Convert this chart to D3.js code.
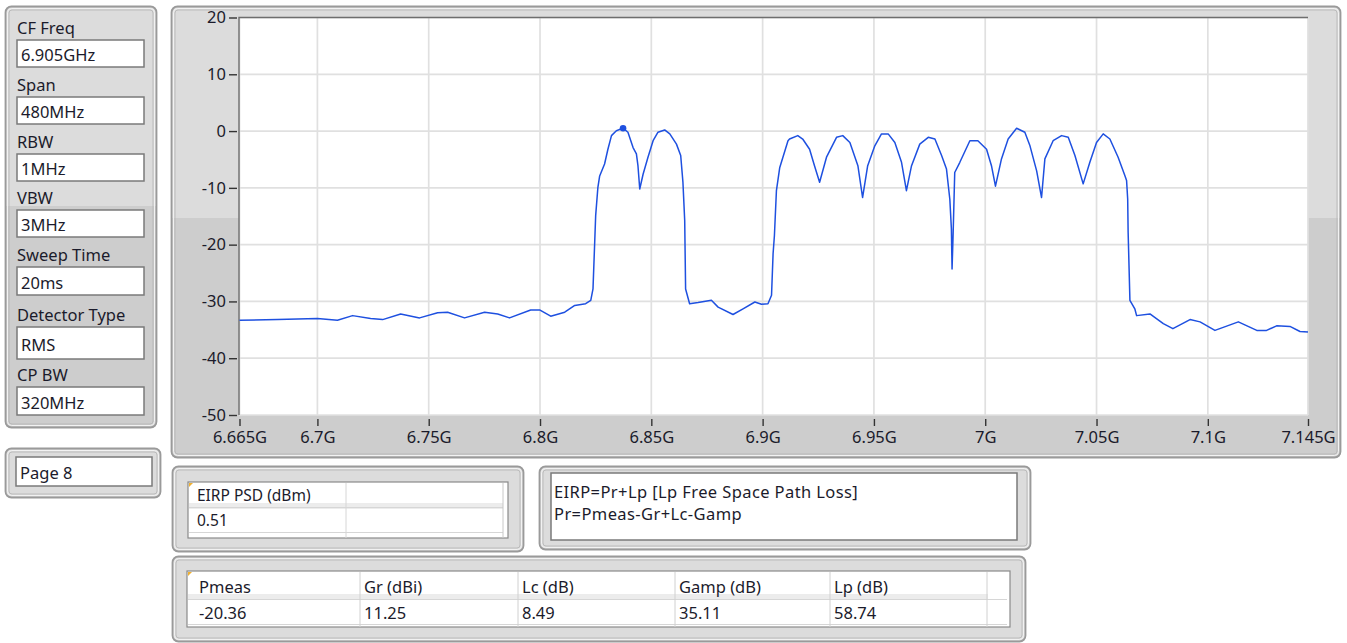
<!DOCTYPE html>
<html><head><meta charset="utf-8">
<script src="https://cdn.jsdelivr.net/npm/d3@7"></script>
<style>
html,body{margin:0;padding:0;background:#fff;}
svg text{font-family:"Noto Sans","Open Sans",sans-serif;fill:#1b1b2b;}
</style></head>
<body>
<svg id="c" width="1347" height="643"></svg>
<script>
// ---------- data ----------
const freqMHz = [6665,6682.1,6700,6709,6715.8,6723.9,6729.3,6737.4,6745.9,6754,6758.5,6766.1,6775.1,6781,6786.3,6795.8,6799.8,6804.8,6811.1,6815.6,6820.5,6822.8,6823.8,6825,6826,6826.8,6829,6830.5,6832.1,6834.3,6837.3,6839.5,6841.8,6843.3,6844,6844.8,6846.3,6848.5,6850.8,6853,6856,6858.3,6861.3,6863.2,6864.2,6865,6865.4,6867.2,6871,6877,6880,6886.7,6891.2,6896.5,6899.5,6902.4,6904,6904.7,6905.3,6906.2,6907.7,6911.4,6912.1,6915.8,6918,6921.1,6923.3,6925.6,6928.7,6933.2,6936,6939.2,6942.8,6944.9,6947.2,6950.4,6953.4,6956.4,6959.4,6962.4,6964.6,6966.9,6970.6,6974.4,6977.4,6980.4,6982.6,6984.1,6984.8,6985.1,6985.6,6986.3,6988.6,6993.1,6996.7,7000.6,7002.8,7004.6,7007.3,7010.3,7014.1,7017.8,7020.1,7023.1,7025.3,7026.8,7030.5,7034.3,7037.3,7040.3,7044,7047,7050,7053,7056,7059.7,7062.8,7063.5,7064,7064.2,7065,7067.2,7068,7074,7080,7084.3,7092,7096.5,7103.2,7113.7,7122,7126.4,7130.9,7136.9,7141.4,7145];
const levelDb = [-33.3,-33.2,-33.0,-33.3,-32.5,-33.0,-33.2,-32.2,-32.9,-32.0,-31.9,-32.9,-31.9,-32.2,-32.9,-31.5,-31.5,-32.6,-31.9,-30.7,-30.4,-29.8,-27.8,-14.9,-9.9,-7.9,-5.8,-3.2,-0.8,0.05,0.51,-0.2,-2.9,-4.0,-6.1,-10.2,-7.6,-4.6,-1.7,-0.2,0.2,-0.5,-2.3,-4.3,-9.0,-15.8,-27.8,-30.4,-30.2,-29.8,-31.0,-32.3,-31.3,-30.1,-30.5,-30.4,-28.9,-21.6,-18.4,-10.5,-6.4,-1.7,-1.4,-0.8,-1.4,-3.2,-6.1,-9.0,-4.6,-1.1,-0.8,-2.0,-6.1,-11.7,-6.1,-2.6,-0.5,-0.5,-2.0,-5.5,-10.5,-6.1,-2.3,-1.1,-1.4,-4.3,-6.7,-12.0,-17.2,-24.3,-17.8,-7.3,-5.5,-1.7,-1.7,-3.2,-6.1,-9.7,-4.9,-1.4,0.5,-0.2,-2.6,-7.0,-11.7,-4.9,-1.7,-0.8,-1.1,-4.3,-9.3,-5.5,-2.0,-0.5,-1.4,-4.6,-7.9,-8.7,-12,-17.8,-29.8,-31.3,-32.5,-32.2,-33.9,-34.8,-33.2,-33.6,-35.1,-33.6,-35.1,-35.1,-34.3,-34.4,-35.3,-35.4];
const markerFreq = 6837.3, markerDb = 0.51;
const xTickValues = [6665,6700,6750,6800,6850,6900,6950,7000,7050,7100,7145];
const xTickLabels = ["6.665G","6.7G","6.75G","6.8G","6.85G","6.9G","6.95G","7G","7.05G","7.1G","7.145G"];
const yTickValues = [20,10,0,-10,-20,-30,-40,-50];
const settingLabels = ["CF Freq","Span","RBW","VBW","Sweep Time","Detector Type","CP BW"];
const settingValues = ["6.905GHz","480MHz","1MHz","3MHz","20ms","RMS","320MHz"];
const pageLabel = "Page 8";
const psdHeader = "EIRP PSD (dBm)", psdValue = "0.51";
const formulaLines = ["EIRP=Pr+Lp [Lp Free Space Path Loss]","Pr=Pmeas-Gr+Lc-Gamp"];
const paramHeaders = ["Pmeas","Gr (dBi)","Lc (dB)","Gamp (dB)","Lp (dB)"];
const paramValues = ["-20.36","11.25","8.49","35.11","58.74"];

// ---------- drawing ----------
const FS = 16.5;
const svg = d3.select("#c");
function frame(x,y,w,h,split){
  const g = svg.append("g");
  const id = "clip"+Math.round(x)+"_"+Math.round(y);
  g.append("clipPath").attr("id",id).append("rect").attr("x",x).attr("y",y).attr("width",w).attr("height",h).attr("rx",6);
  g.append("rect").attr("x",x).attr("y",y).attr("width",w).attr("height",h).attr("rx",6).attr("fill","#dcdcdc");
  if(split!=null){
    g.append("rect").attr("clip-path","url(#"+id+")").attr("x",x).attr("y",split).attr("width",w).attr("height",y+h-split).attr("fill","#cdcdcd");
  }
  g.append("rect").attr("x",x+0.5).attr("y",y+0.5).attr("width",w-1).attr("height",h-1).attr("rx",6).attr("fill","none").attr("stroke","#9a9a9a").attr("stroke-width",1.8);
  g.append("rect").attr("x",x+2.5).attr("y",y+2.5).attr("width",w-5).attr("height",h-5).attr("rx",4).attr("fill","none").attr("stroke","#f2f2f2").attr("stroke-width",1);
  g.append("rect").attr("x",x+4).attr("y",y+4).attr("width",w-8).attr("height",h-8).attr("rx",3).attr("fill","none").attr("stroke","#b4b4b4").attr("stroke-width",0.8);
  return g;
}
function box(x,y,w,h){
  svg.append("rect").attr("x",x).attr("y",y).attr("width",w).attr("height",h).attr("fill","#fff").attr("stroke","#7a7a7a").attr("stroke-width",1.5);
}

// left settings panel
frame(5,6,152,422,206);
const boxTops=[40,97,154,210,267,327,387], boxH=[27,27,27,27,28,32,28];
settingLabels.forEach((l,i)=>{
  svg.append("text").attr("x",17).attr("y",boxTops[i]-13).attr("dominant-baseline","central").attr("font-size",FS).text(l);
  box(17,boxTops[i],127,boxH[i]);
  svg.append("text").attr("x",21).attr("y",boxTops[i]+boxH[i]/2+1).attr("dominant-baseline","central").attr("font-size",FS).text(settingValues[i]);
});

// page box
frame(5,448,156,50,null);
box(16,457,136,29);
svg.append("text").attr("x",20).attr("y",472).attr("dominant-baseline","central").attr("font-size",FS).text(pageLabel);

// chart panel
frame(171,6,1170,452,218);
const x = d3.scaleLinear().domain([6665,7145]).range([239.5,1308]);
const y = d3.scaleLinear().domain([-50,20]).range([415,17.5]);
svg.append("rect").attr("x",239).attr("y",17.5).attr("width",1308-239).attr("height",415-17.5).attr("fill","#fff");
const grid = svg.append("g").attr("stroke","#e0e0e0").attr("stroke-width",1.7);
xTickValues.forEach(v=>grid.append("line").attr("x1",x(v)).attr("x2",x(v)).attr("y1",17.5).attr("y2",415));
yTickValues.forEach(v=>grid.append("line").attr("x1",239).attr("x2",1308).attr("y1",y(v)).attr("y2",y(v)));
svg.append("path").attr("d",`M239,415V17.5H1308`).attr("fill","none").attr("stroke","#6e6e6e").attr("stroke-width",1.4);

const yAxis = d3.axisLeft(y).tickValues(yTickValues).tickSize(8).tickPadding(3).tickFormat(d=>d);
const gy = svg.append("g").attr("transform","translate(237,0)").call(yAxis);
gy.select(".domain").remove();
gy.selectAll("line").attr("stroke","#333").attr("stroke-width",1.4);
gy.selectAll("text").attr("font-size",FS).attr("fill","#1b1b2b").style("font-family",'"Noto Sans",sans-serif');

const xAxis = d3.axisBottom(x).tickValues(xTickValues).tickSize(7).tickPadding(5).tickFormat((d,i)=>xTickLabels[i]);
const gx = svg.append("g").attr("transform","translate(0,419)").call(xAxis);
gx.select(".domain").remove();
gx.selectAll("line").attr("stroke","#333").attr("stroke-width",1.4);
gx.selectAll("text").attr("font-size",FS).attr("fill","#1b1b2b").style("font-family",'"Noto Sans",sans-serif');

const pts = freqMHz.map((f,i)=>[f,levelDb[i]]);
const line = d3.line().x(d=>x(d[0])).y(d=>y(d[1]));
svg.append("path").datum(pts).attr("d",line).attr("fill","none").attr("stroke","#1e50e0").attr("stroke-width",1.5).attr("stroke-linejoin","round");
svg.append("circle").attr("cx",x(markerFreq)).attr("cy",y(markerDb)).attr("r",3.3).attr("fill","#1e50e0");

// EIRP PSD panel
frame(172,466,352,86,null);
svg.append("rect").attr("x",188).attr("y",482).attr("width",320).attr("height",56).attr("fill","#fff").attr("stroke","#8a8a8a").attr("stroke-width",1.2);
svg.append("rect").attr("x",189).attr("y",503).attr("width",314).attr("height",6).attr("fill","#ececec");
svg.append("line").attr("x1",189).attr("x2",503).attr("y1",507.5).attr("y2",507.5).attr("stroke","#d6d6d6");
svg.append("line").attr("x1",189).attr("x2",503).attr("y1",532.5).attr("y2",532.5).attr("stroke","#d6d6d6");
svg.append("line").attr("x1",346).attr("x2",346).attr("y1",483).attr("y2",538).attr("stroke","#d6d6d6");
svg.append("line").attr("x1",503).attr("x2",503).attr("y1",483).attr("y2",538).attr("stroke","#c8c8c8");
svg.append("path").attr("d","M189,483h4l-4,4z").attr("fill","#f0b030");
svg.append("text").attr("x",197).attr("y",495).attr("dominant-baseline","central").attr("font-size",15.5).text(psdHeader);
svg.append("text").attr("x",197).attr("y",520).attr("dominant-baseline","central").attr("font-size",15.5).text(psdValue);

// formula panel
frame(539,466,492,84,null);
svg.append("rect").attr("x",551).attr("y",473).attr("width",466).attr("height",67).attr("fill","#fff").attr("stroke","#7a7a7a").attr("stroke-width",1.5);
formulaLines.forEach((t,i)=>svg.append("text").attr("x",554).attr("y",491+i*22).attr("dominant-baseline","central").attr("font-size",FS).attr("letter-spacing",0.4).text(t));

// parameters panel
frame(172,556,854,86,null);
svg.append("rect").attr("x",187).attr("y",571).attr("width",823).attr("height",56).attr("fill","#fff").attr("stroke","#8a8a8a").attr("stroke-width",1.2);
svg.append("rect").attr("x",188).attr("y",594).attr("width",800).attr("height",6).attr("fill","#ececec");
svg.append("line").attr("x1",188).attr("x2",1007).attr("y1",599.5).attr("y2",599.5).attr("stroke","#d6d6d6");
svg.append("line").attr("x1",188).attr("x2",1007).attr("y1",624.5).attr("y2",624.5).attr("stroke","#d6d6d6");
const colX=[188,360,518,675,830,987];
colX.slice(1).forEach(cx=>svg.append("line").attr("x1",cx).attr("x2",cx).attr("y1",572).attr("y2",627).attr("stroke","#d0d0d0"));
svg.append("path").attr("d","M188,572h4l-4,4z").attr("fill","#f0b030");
paramHeaders.forEach((h,i)=>{
  svg.append("text").attr("x",colX[i]+(i===0?11:4)).attr("y",586).attr("dominant-baseline","central").attr("font-size",16.5).text(h);
  svg.append("text").attr("x",colX[i]+(i===0?11:4)).attr("y",612).attr("dominant-baseline","central").attr("font-size",16.5).text(paramValues[i]);
});
</script>
</body></html>
